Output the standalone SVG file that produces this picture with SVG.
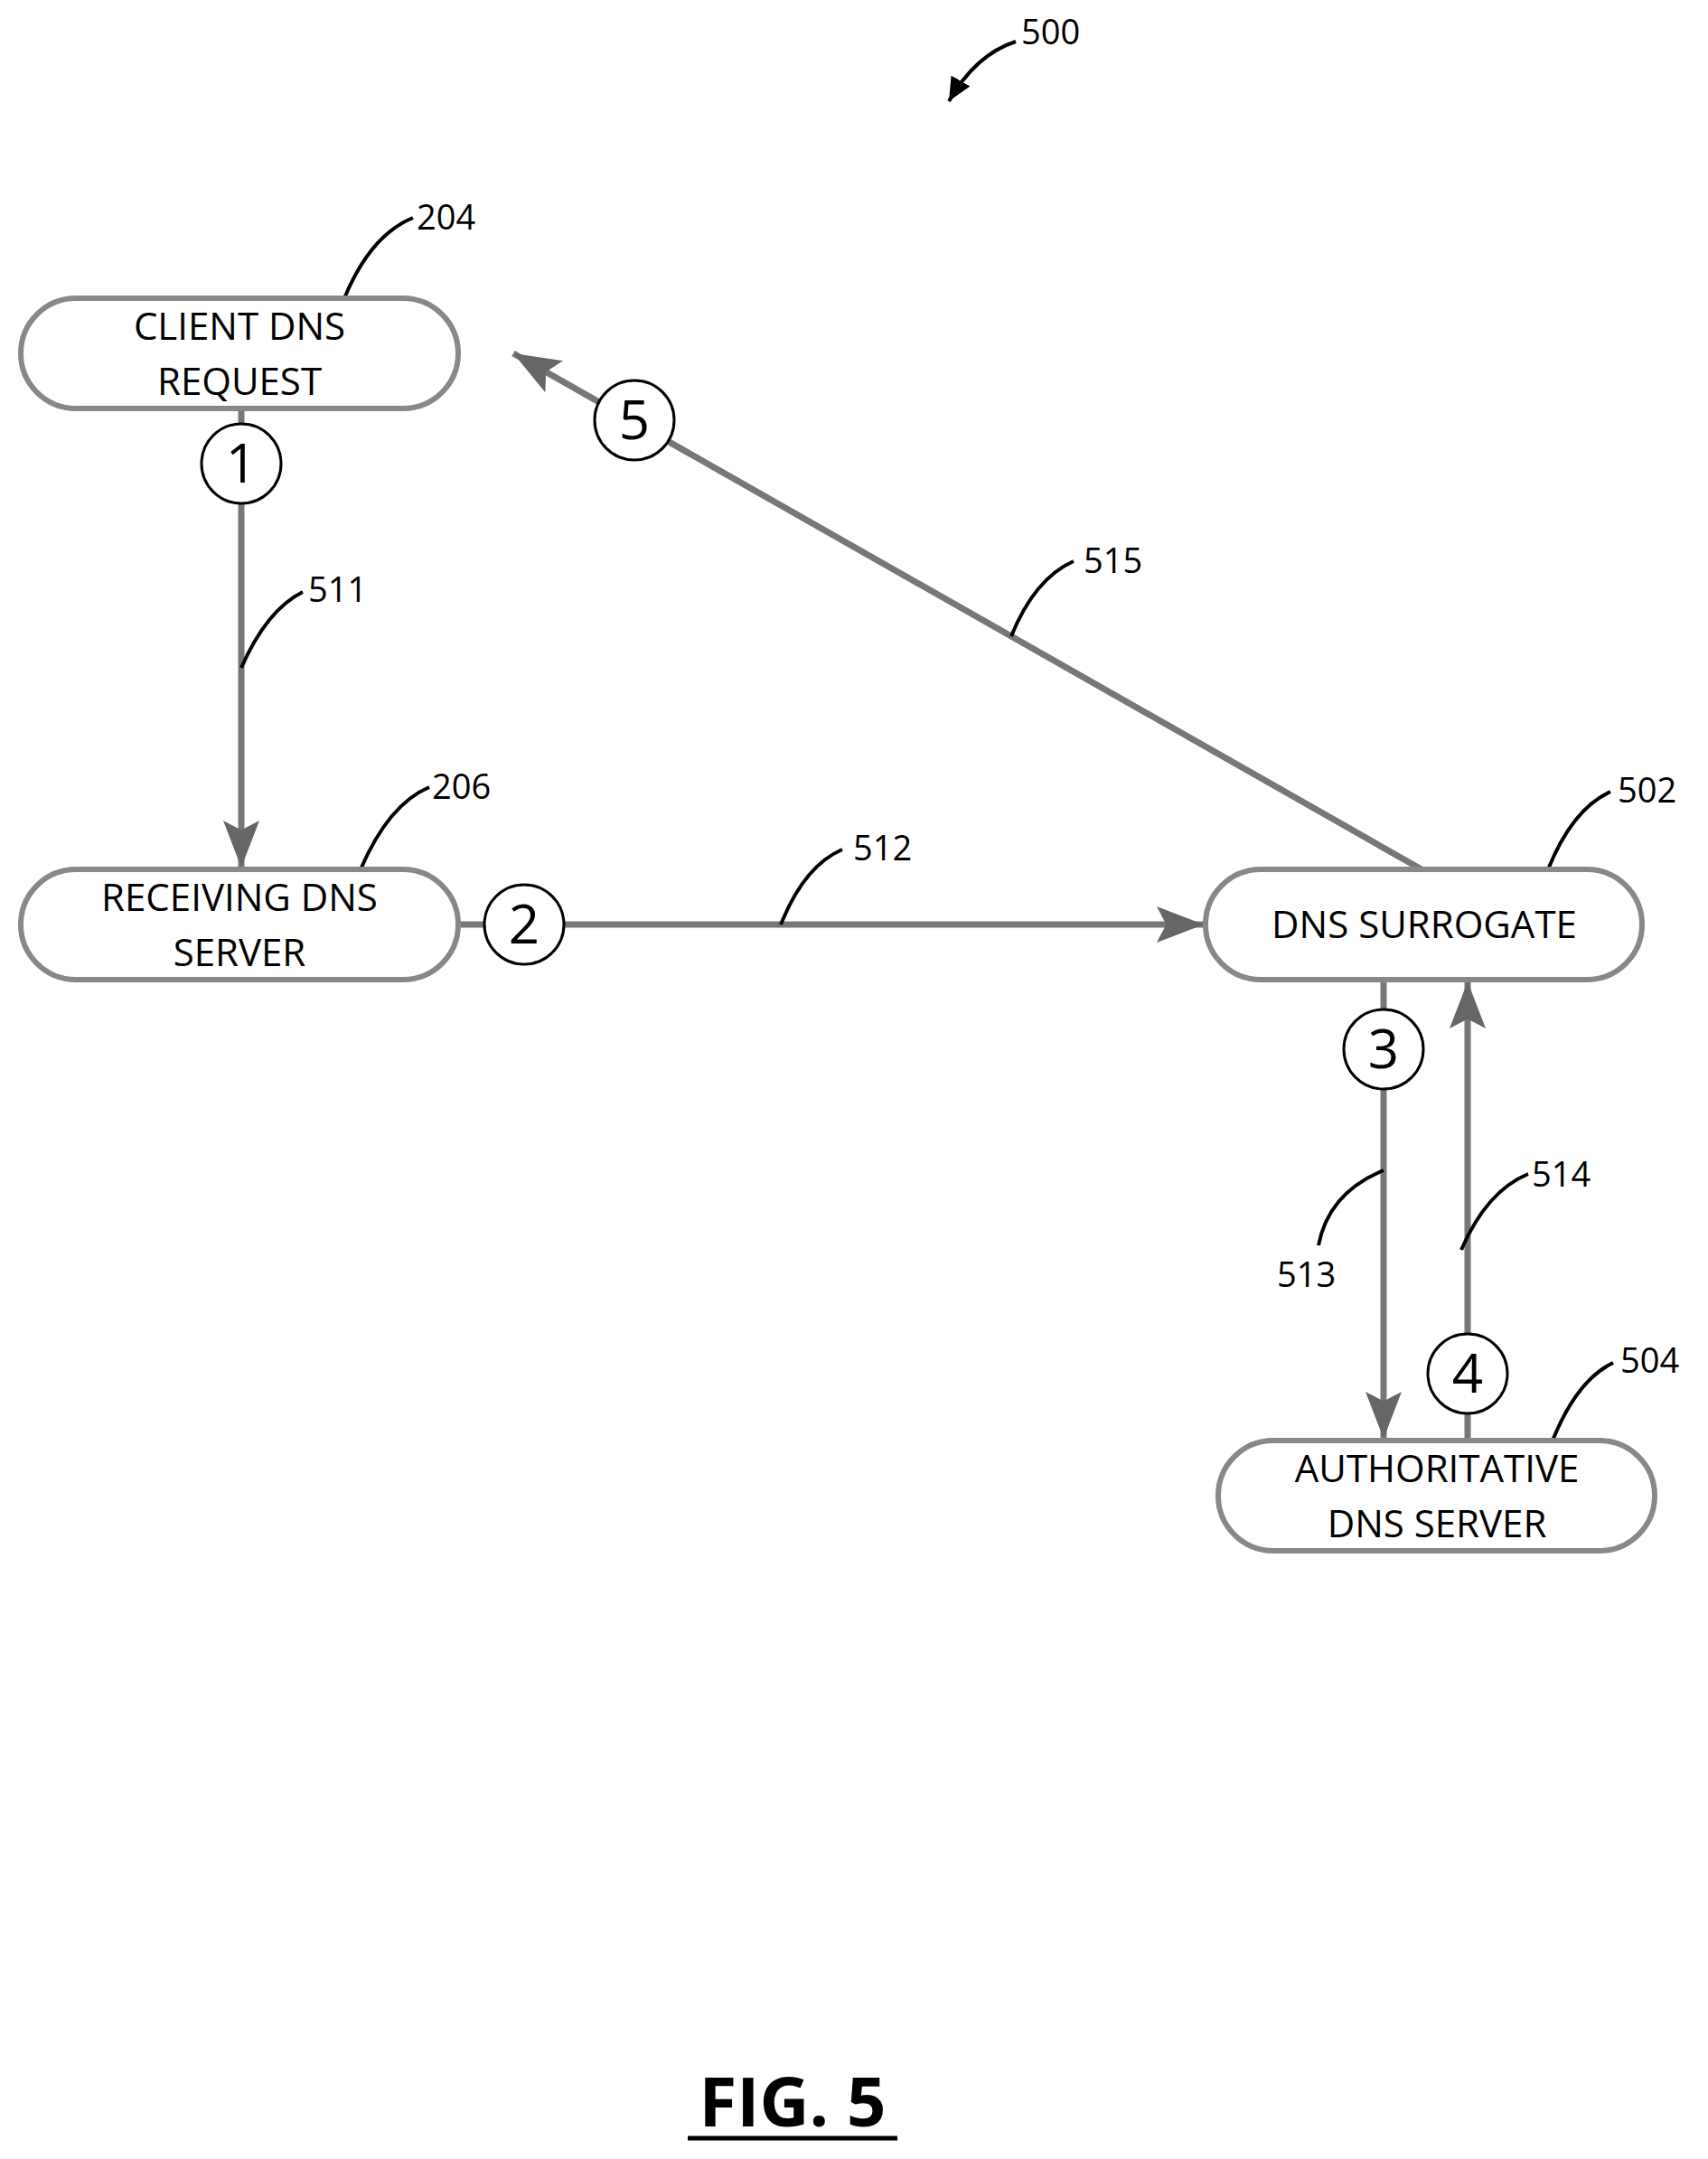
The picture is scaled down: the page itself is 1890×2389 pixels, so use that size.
<svg xmlns="http://www.w3.org/2000/svg" width="1890" height="2389" viewBox="0 0 1890 2389">
<style>
.node{fill:#fff;stroke:#888;stroke-width:6}
.lbl{font-family:"Open Sans",sans-serif;font-size:42px;text-anchor:middle;fill:#000}
.num{font-family:"Open Sans",sans-serif;font-size:38px;fill:#000}
.cir{fill:#fff;stroke:#000;stroke-width:3}
.cn{font-family:"Open Sans",sans-serif;font-size:60px;text-anchor:middle;fill:#000}
.con{stroke:#777;stroke-width:7;fill:none}
.lead{stroke:#000;stroke-width:4;fill:none}
</style>
<defs>
<marker id="ah" markerWidth="10" markerHeight="10" refX="9" refY="5" orient="auto" markerUnits="userSpaceOnUse" viewBox="0 0 10 10" >
<path d="M0,0 L10,5 L0,10 Z" fill="#666"/>
</marker>
<marker id="big" viewBox="0 0 10 10" refX="10" refY="5" markerWidth="52" markerHeight="40" orient="auto" markerUnits="userSpaceOnUse" preserveAspectRatio="none">
<path d="M0,0 L10,5 L0,10 L2,5 Z" fill="#666"/>
</marker>
<marker id="blk" viewBox="0 0 10 10" refX="10" refY="5" markerWidth="26" markerHeight="24" orient="auto" markerUnits="userSpaceOnUse" preserveAspectRatio="none">
<path d="M0,0 L10,5 L0,10 Z" fill="#000"/>
</marker>
</defs>
<g id="connectors">
<line class="con" x1="267" y1="452" x2="267" y2="470"/>
<line class="con" x1="267" y1="557" x2="267" y2="960" marker-end="url(#big)"/>
<line class="con" x1="507" y1="1023" x2="536" y2="1023"/>
<line class="con" x1="624" y1="1023" x2="1332" y2="1023" marker-end="url(#big)"/>
<line class="con" x1="1531" y1="1084" x2="1531" y2="1117"/>
<line class="con" x1="1531" y1="1205" x2="1531" y2="1592" marker-end="url(#big)"/>
<line class="con" x1="1624" y1="1564" x2="1624" y2="1594"/>
<line class="con" x1="1624" y1="1476" x2="1624" y2="1086" marker-end="url(#big)"/>
<line class="con" x1="1573" y1="962" x2="568" y2="391" marker-end="url(#big)"/>
</g>
<g id="leaders">
<path class="lead" d="M381,330 Q410,260 457,241"/><text class="num" x="461" y="254">204</text>
<path class="lead" d="M399,962 Q430,890 475,871"/><text class="num" x="478" y="884">206</text>
<path class="lead" d="M267,739 Q295,675 335,655"/><text class="num" x="341" y="666">511</text>
<path class="lead" d="M864,1023 Q890,958 932,940"/><text class="num" x="944" y="952">512</text>
<path class="lead" d="M1119,704 Q1145,640 1188,621"/><text class="num" x="1199" y="634">515</text>
<path class="lead" d="M1713,962 Q1740,895 1782,876"/><text class="num" x="1790" y="888">502</text>
<path class="lead" d="M1531,1295 Q1470,1320 1459,1378"/><text class="num" x="1413" y="1424">513</text>
<path class="lead" d="M1617,1383 Q1645,1318 1691,1299"/><text class="num" x="1695" y="1313">514</text>
<path class="lead" d="M1718,1594 Q1745,1527 1785,1508"/><text class="num" x="1793" y="1519">504</text>
<path class="lead" d="M1124,46 Q1080,60 1050,112" marker-end="url(#blk)"/><text class="num" x="1130" y="49">500</text>
</g>
<g id="n204"><rect class="node" x="23" y="330" width="484" height="122" rx="61"/><text class="lbl" x="265" y="376">CLIENT DNS</text><text class="lbl" x="265" y="437">REQUEST</text></g>
<g id="n206"><rect class="node" x="23" y="962" width="484" height="122" rx="61"/><text class="lbl" x="265" y="1008">RECEIVING DNS</text><text class="lbl" x="265" y="1069">SERVER</text></g>
<g id="n502"><rect class="node" x="1334" y="962" width="483" height="122" rx="61"/><text class="lbl" x="1576" y="1038">DNS SURROGATE</text></g>
<g id="n504"><rect class="node" x="1348" y="1594" width="483" height="122" rx="61"/><text class="lbl" x="1590" y="1640">AUTHORITATIVE</text><text class="lbl" x="1590" y="1701">DNS SERVER</text></g>
<g id="c1"><circle class="cir" cx="267" cy="513" r="44"/><text class="cn" x="267" y="534">1</text></g>
<g id="c2"><circle class="cir" cx="580" cy="1023" r="44"/><text class="cn" x="580" y="1044">2</text></g>
<g id="c3"><circle class="cir" cx="1531" cy="1161" r="44"/><text class="cn" x="1531" y="1182">3</text></g>
<g id="c4"><circle class="cir" cx="1624" cy="1520" r="44"/><text class="cn" x="1624" y="1541">4</text></g>
<g id="c5"><circle class="cir" cx="702" cy="465" r="44"/><text class="cn" x="702" y="486">5</text></g>
<g id="fig"><text x="877" y="2353" font-family="Open Sans, sans-serif" font-weight="bold" font-size="76" text-anchor="middle">FIG. 5</text><line x1="761" y1="2366" x2="993" y2="2366" stroke="#000" stroke-width="5"/></g>
</svg>
